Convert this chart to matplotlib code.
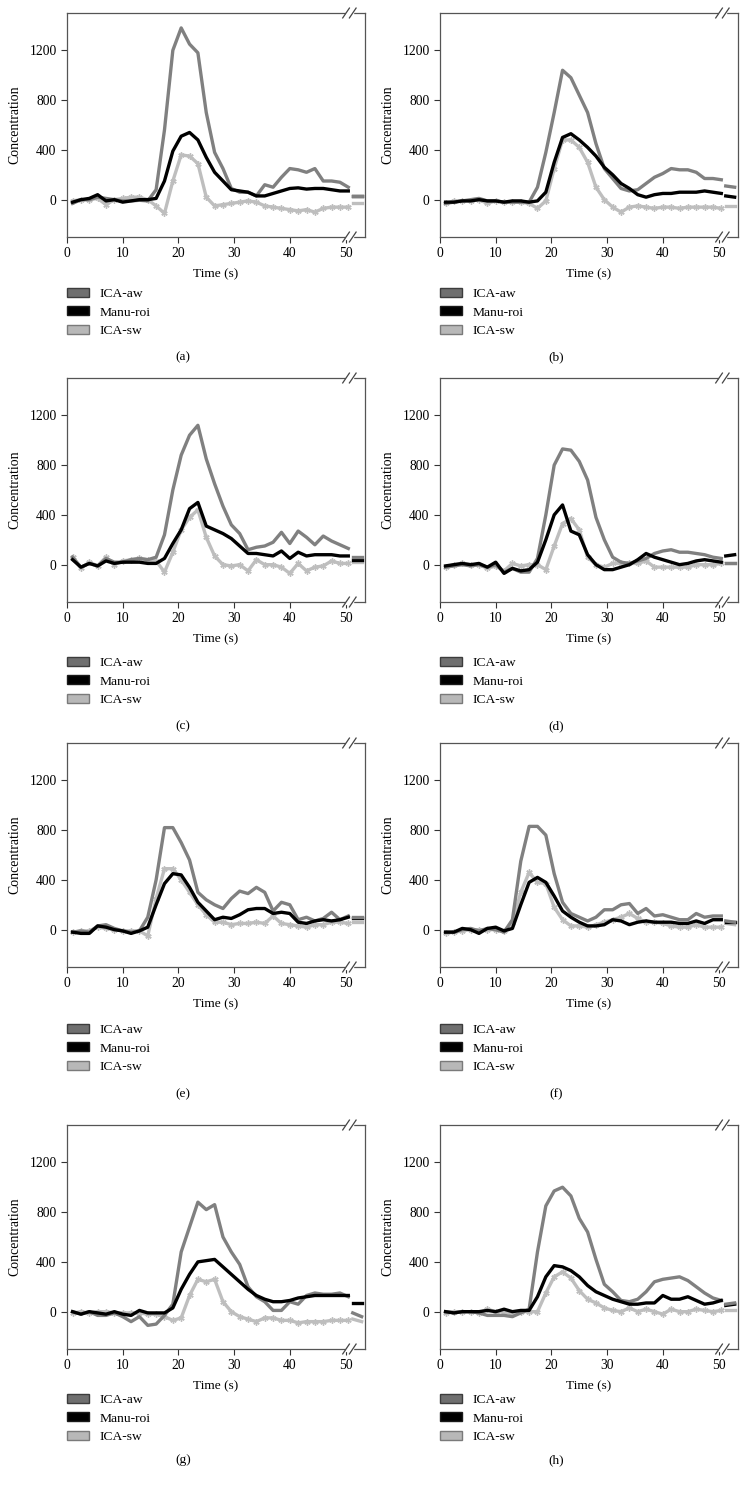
import matplotlib
matplotlib.use("Agg")
import matplotlib.pyplot as plt
import numpy as np
from matplotlib.patches import Patch

plt.rcParams['font.family'] = ['Liberation Serif', 'DejaVu Serif']

# time axis (s), one sample every 1.5 s, plus the short segment after the axis break
time = np.arange(34) * 1.5 + 1.0
time_tail = [51.3, 52.9]

series_names = ["ICA-aw", "Manu-roi", "ICA-sw"]
panel_labels = ["(a)", "(b)", "(c)", "(d)", "(e)", "(f)", "(g)", "(h)"]

# (a)
aw_a = [-30, 0, 0, 20, 10, 0, -10, -10, -5, -10, 80, 560, 1200, 1380, 1250, 1180, 700, 380,
        250, 90, 60, 60, 30, 120, 100, 180, 250, 240, 220, 250, 150, 150, 140, 100]
roi_a = [-20, 0, 10, 40, -10, 0, -20, -10, 0, 0, 10, 150, 390, 510, 540, 480, 340, 220,
         150, 80, 70, 60, 30, 30, 50, 70, 90, 95, 85, 90, 90, 80, 70, 70]
sw_a = [-10, 0, 0, 10, -40, 0, 10, 20, 20, 0, -50, -110, 150, 360, 350, 290, 20, -50,
        -40, -30, -20, -10, -20, -50, -60, -70, -80, -90, -80, -100, -70, -60, -60, -60]
tail_a = [[30, 30], [30, 30], [-30, -30]]

# (b)
aw_b = [-30, -20, -10, 0, 10, -10, -10, -20, -20, -20, -20, 100, 380, 700, 1040, 980, 840, 700,
        450, 250, 170, 90, 70, 80, 130, 180, 210, 250, 240, 240, 220, 170, 170, 160]
roi_b = [-20, -20, -10, -10, 0, -10, -10, -20, -10, -10, -20, -10, 60, 300, 500, 530, 480, 420,
         350, 260, 200, 130, 90, 40, 20, 40, 50, 50, 60, 60, 60, 70, 60, 50]
sw_b = [-30, -10, -10, -10, 0, -30, -10, -20, -20, -20, -30, -70, -10, 250, 480, 480, 420, 300,
        100, 0, -60, -100, -60, -50, -60, -70, -60, -60, -70, -60, -60, -60, -60, -70]
tail_b = [[110, 100], [30, 20], [-50, -50]]

# (c)
aw_c = [60, -20, 10, -10, 50, 20, 20, 40, 50, 40, 60, 240, 600, 880, 1040, 1120, 850, 650,
        470, 320, 250, 120, 140, 150, 180, 260, 170, 270, 220, 160, 230, 190, 160, 130]
roi_c = [40, -20, 10, -10, 30, 10, 20, 20, 20, 10, 10, 50, 170, 280, 450, 500, 310, 280,
         250, 210, 150, 90, 90, 80, 70, 110, 50, 100, 70, 80, 80, 80, 70, 70]
sw_c = [60, -30, 20, -10, 60, 0, 30, 40, 50, 40, 30, -60, 100, 280, 380, 440, 220, 70,
        0, -10, 0, -50, 40, 0, 0, -20, -70, 10, -50, -20, -10, 30, 10, 10]
tail_c = [[60, 60], [40, 40], [20, 20]]

# (d)
aw_d = [-20, -10, 0, -10, 0, -20, 0, -60, -30, -60, -60, 50, 400, 800, 930, 920, 830, 680,
        380, 200, 60, 20, 10, 30, 50, 90, 110, 120, 100, 100, 90, 80, 60, 50]
roi_d = [-10, 0, 10, 0, 10, -20, 20, -70, -30, -50, -40, 20, 200, 400, 480, 270, 240, 80,
         0, -40, -40, -20, 0, 40, 90, 60, 40, 20, 0, 10, 30, 40, 30, 20]
sw_d = [-20, 0, 10, 0, 0, -30, -10, -50, 10, -10, 0, 0, -40, 150, 330, 370, 280, 60,
        0, -20, 10, 10, 10, 10, 30, -20, -20, -20, -20, -20, 0, 0, 0, 10]
tail_d = [[10, 10], [70, 80], [10, 10]]

# (e)
aw_e = [-20, -10, -20, 30, 40, 10, -10, -20, -10, 100, 400, 820, 820, 700, 560, 300, 240, 200,
        170, 250, 310, 290, 340, 300, 150, 220, 200, 80, 100, 70, 90, 140, 80, 110]
roi_e = [-20, -30, -30, 30, 20, 0, -10, -30, -10, 20, 200, 370, 450, 440, 340, 220, 150, 80,
         100, 90, 120, 160, 170, 170, 130, 140, 130, 60, 50, 70, 80, 70, 80, 100]
sw_e = [-20, -10, -10, 20, 10, 0, -10, -10, -10, -50, 250, 490, 490, 400, 300, 200, 120, 60,
        60, 40, 50, 50, 60, 50, 110, 50, 40, 30, 20, 40, 40, 60, 60, 50]
tail_e = [[100, 100], [90, 90], [60, 60]]

# (f)
aw_f = [-20, -20, 0, 10, -10, 10, 0, -20, 80, 550, 830, 830, 760, 450, 220, 130, 100, 70,
        100, 160, 160, 200, 210, 130, 170, 110, 120, 100, 80, 80, 130, 100, 110, 110]
roi_f = [-20, -20, 10, 0, -30, 10, 20, -10, 10, 200, 380, 420, 380, 270, 150, 100, 60, 30,
         30, 40, 80, 70, 40, 60, 70, 60, 60, 60, 50, 50, 70, 50, 80, 80]
sw_f = [-30, -20, -10, 0, 0, 0, 0, -10, 50, 300, 460, 380, 370, 180, 80, 30, 30, 20,
        40, 60, 80, 100, 130, 90, 60, 60, 50, 30, 20, 20, 40, 20, 20, 20]
tail_f = [[70, 60], [60, 60], [50, 40]]

# (g)
aw_g = [0, -20, 0, -30, -30, -10, -40, -80, -40, -110, -100, -30, 60, 480, 680, 880, 820, 860,
        600, 480, 380, 200, 120, 80, 10, 10, 80, 60, 130, 150, 140, 140, 150, 120]
roi_g = [0, -20, 0, -10, -20, 0, -20, -30, 10, -10, -10, -10, 30, 180, 300, 400, 410, 420,
         360, 300, 240, 180, 130, 100, 80, 80, 90, 110, 120, 130, 130, 130, 130, 130]
sw_g = [-10, 0, -10, 0, 0, -10, -10, -10, -10, -20, -20, -40, -70, -50, 130, 260, 240, 260,
        80, 0, -40, -60, -80, -50, -50, -70, -70, -90, -80, -80, -80, -70, -70, -70]
tail_g = [[-10, -40], [70, 70], [-60, -80]]

# (h)
aw_h = [0, -10, 0, 0, -10, -30, -30, -30, -40, -10, 20, 480, 850, 970, 1000, 930, 750, 640,
        420, 220, 160, 90, 80, 100, 160, 240, 260, 270, 280, 250, 200, 150, 110, 90]
roi_h = [0, -10, 0, 0, 0, 10, 0, 20, 0, 10, 10, 120, 280, 370, 360, 330, 280, 210,
         160, 130, 100, 80, 60, 60, 70, 70, 130, 100, 100, 120, 90, 60, 70, 90]
sw_h = [-10, 0, 0, 0, -10, 20, 0, 0, -20, 0, 0, 0, 150, 280, 320, 270, 170, 100,
        70, 30, 10, 0, 30, 0, 20, 0, -20, 20, 0, 0, 20, 10, 0, 10]
tail_h = [[60, 70], [50, 60], [10, 10]]

panels = [
    (aw_a, roi_a, sw_a, tail_a), (aw_b, roi_b, sw_b, tail_b),
    (aw_c, roi_c, sw_c, tail_c), (aw_d, roi_d, sw_d, tail_d),
    (aw_e, roi_e, sw_e, tail_e), (aw_f, roi_f, sw_f, tail_f),
    (aw_g, roi_g, sw_g, tail_g), (aw_h, roi_h, sw_h, tail_h),
]

line_colors = ["#808080", "#000000", "#bebebe"]
patch_faces = ["#6f6f6f", "#000000", "#b8b8b8"]
patch_edges = ["#3c3c3c", "#1a1a1a", "#7a7a7a"]

W, H = 747, 1496
fig = plt.figure(figsize=(W / 100, H / 100), dpi=100)

col_left = [67, 440]
ax_w = 298
row_top = [13, 378, 743, 1125]
ax_h = 224
legend_top = [288, 657, 1024, 1394]
caption_y = [357, 726, 1094, 1460]

for k, (aw, roi, sw, tail) in enumerate(panels):
    r, c = divmod(k, 2)
    x0 = col_left[c]
    y0 = row_top[r]
    ax = fig.add_axes([x0 / W, 1 - (y0 + ax_h) / H, ax_w / W, ax_h / H])

    ax.plot(time, aw, color=line_colors[0], lw=2.4, zorder=3)
    ax.plot(time, roi, color=line_colors[1], lw=2.4, zorder=4)
    ax.plot(time, sw, color=line_colors[2], lw=2.4, marker=(6, 2, 0), ms=4.5, mew=1.0,
            zorder=2)
    # short segment after the break
    ax.plot(time_tail, tail[2], color=line_colors[2], lw=2.4, zorder=2)
    ax.plot(time_tail, tail[1], color=line_colors[1], lw=2.4, zorder=3)
    ax.plot(time_tail, tail[0], color=line_colors[0], lw=2.4, zorder=4)

    ax.set_xlim(0, 53.5)
    ax.set_ylim(-300, 1500)
    ax.set_xticks([0, 10, 20, 30, 40, 50])
    ax.set_yticks([0, 400, 800, 1200])
    ax.tick_params(direction='out', length=4.5, width=0.8, color='#333333',
                   labelsize=9.8, pad=3)
    for s in ax.spines.values():
        s.set_color('#555555')
        s.set_linewidth(0.9)

    # axis-break marks "//" on top and bottom spines
    tr = ax.get_xaxis_transform()
    for yb in (0.0, 1.0):
        ax.fill_between([50.1, 51.4], yb - 0.01, yb + 0.01, color='white',
                        transform=tr, clip_on=False, zorder=5)
        for xb in (50.1, 51.3):
            ax.plot([xb - 0.6, xb + 0.6], [yb - 0.022, yb + 0.022], color='#444444',
                    lw=0.9, transform=tr, clip_on=False, zorder=6)

    ax.set_xlabel("Time (s)", fontsize=9.6, labelpad=6)
    ax.set_ylabel("Concentration", fontsize=9.9, labelpad=6)

    handles = [Patch(facecolor=patch_faces[i], edgecolor=patch_edges[i], lw=1.0,
                     label=series_names[i]) for i in range(3)]
    ax.legend(handles=handles, loc='upper left',
              bbox_to_anchor=(x0 / W, 1 - legend_top[r] / H),
              bbox_transform=fig.transFigure, frameon=False, fontsize=9.7,
              handlelength=1.65, handleheight=0.65, handletextpad=0.75,
              labelspacing=0.45, borderpad=0, borderaxespad=0)

    fig.text((x0 + ax_w / 2 - 33) / W, 1 - caption_y[r] / H, panel_labels[k],
             ha='center', va='center', fontsize=9.6)

fig.savefig("out.png", dpi=100)
